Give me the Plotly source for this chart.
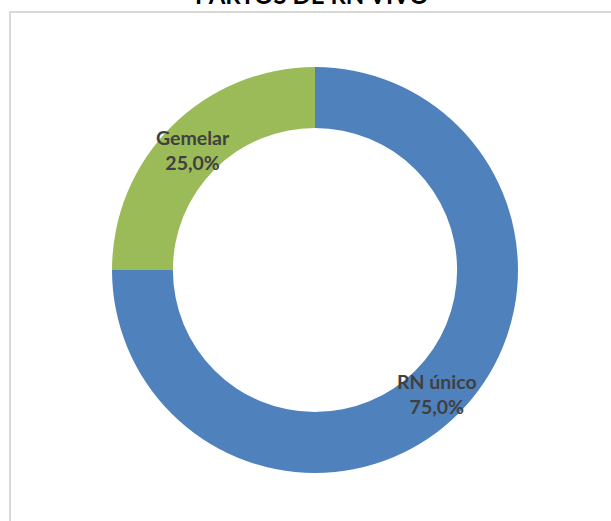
import math
import plotly.graph_objects as go

title = "PARTOS DE RN VIVO"
labels = ["RN único", "Gemelar"]
values = [75, 25]
colors = ["#4F81BD", "#9BBB59"]

W, H = 611, 521
CX, CY, R_OUT = 315, 270, 203
HOLE = 0.70

fig = go.Figure(go.Pie(
    labels=labels,
    values=values,
    hole=HOLE,
    sort=False,
    direction="clockwise",
    rotation=0,
    marker=dict(colors=colors, line=dict(width=0)),
    textinfo="none",
    showlegend=False,
    hoverinfo="skip",
    domain=dict(x=[(CX - R_OUT) / W, (CX + R_OUT) / W],
                y=[(H - CY - R_OUT) / H, (H - CY + R_OUT) / H]),
))

# data labels placed at the middle of each ring segment
annotations = []
total = sum(values)
cum = 0.0
r_mid = R_OUT * (1 + HOLE) / 2
for lab, v in zip(labels, values):
    frac = v / total
    mid = (cum + frac / 2) * 2 * math.pi  # clockwise from 12 o'clock
    cum += frac
    px = CX + r_mid * math.sin(mid)
    py = CY - r_mid * math.cos(mid) + 2
    pct = f"{frac * 100:.1f}%".replace(".", ",")
    annotations.append(dict(
        text=f"<b>{lab}<br>{pct}</b>", xref="paper", yref="paper",
        x=px / W, y=(H - py) / H, xanchor="center", yanchor="middle",
        showarrow=False, align="center",
        font=dict(family="Lato, Open Sans, sans-serif", size=19.5, color="#404040")))

annotations.append(dict(
    text="<b>" + title + "</b>", xref="paper", yref="paper",
    x=312 / W, y=(H - 11) / H, xanchor="center", yanchor="bottom",
    showarrow=False,
    font=dict(family="Lato, Open Sans, sans-serif", size=24, color="#000000")))

fig.update_layout(
    width=W, height=H,
    margin=dict(l=0, r=0, t=0, b=0),
    paper_bgcolor="white",
    shapes=[dict(type="rect", xref="paper", yref="paper",
                 x0=10 / W, x1=1.1, y0=-0.1, y1=(H - 12) / H,
                 line=dict(color="#D9D9D9", width=2),
                 fillcolor="rgba(0,0,0,0)", layer="below")],
    annotations=annotations,
)

fig.write_html("out.html",
               config={"displayModeBar": False},
               post_script="document.body.style.margin='0';document.body.style.overflow='hidden';")
